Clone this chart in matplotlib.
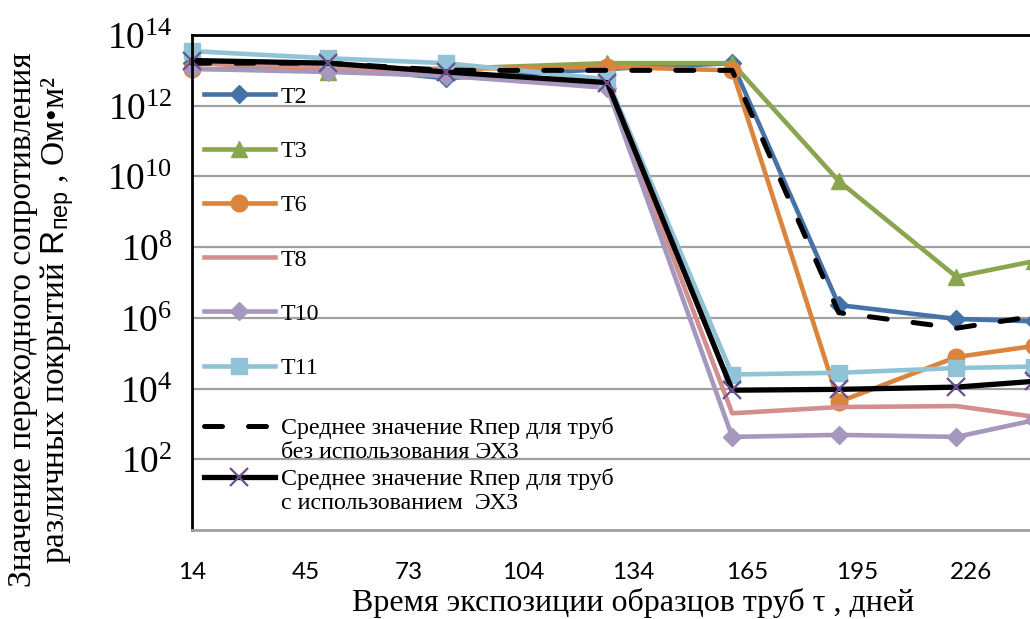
import matplotlib
matplotlib.use('Agg')
import matplotlib.pyplot as plt
import numpy as np
from matplotlib.ticker import FixedLocator, FixedFormatter
from matplotlib.legend_handler import HandlerLine2D

plt.rcParams['mathtext.fontset'] = 'custom'
plt.rcParams['mathtext.rm'] = 'Liberation Serif'
plt.rcParams['mathtext.sf'] = 'Liberation Sans'
plt.rcParams['mathtext.it'] = 'Liberation Serif:italic'

## data (days, Ом*м2)
days = [14, 51, 83, 127, 161, 190, 222, 243]
t2 = [1.6e13, 1.25e13, 6e12, 1.1e13, 1.6e13, 2.3e6, 9.3e5, 8e5]
t3 = [1.8e13, 9e12, 1.1e13, 1.6e13, 1.6e13, 7.4e9, 1.45e7, 4e7]
t6 = [1.1e13, 1.1e13, 1.1e13, 1.25e13, 1e13, 4.2e3, 7.8e4, 1.6e5]
t8 = [1.6e13, 1.25e13, 8e12, 4e12, 2e3, 3e3, 3.2e3, 1.6e3]
t10 = [1.1e13, 9e12, 7e12, 3.2e12, 430, 490, 430, 1.26e3]
t11 = [3.5e13, 2.2e13, 1.6e13, 5.6e12, 2.5e4, 2.8e4, 3.8e4, 4.2e4]
mean_no = [1.6e13, 1.6e13, 1e13, 1e13, 1e13, 1.4e6, 5.1e5, 1.1e6]
mean_with = [1.9e13, 1.6e13, 9e12, 4.5e12, 9e3, 9.5e3, 1.1e4, 1.6e4]

xticks = [14, 45, 73, 104, 134, 165, 195, 226]
yticks = [1e2, 1e4, 1e6, 1e8, 1e10, 1e12, 1e14]
ytick_labels = [r'$10^{2}$', r'$10^{4}$', r'$10^{6}$', r'$10^{8}$',
                r'$10^{10}$', r'$10^{12}$', r'$10^{14}$']


class FirstLineHandler(HandlerLine2D):
    # lift the handle so it sits next to the first line of a 2-line label
    def create_artists(self, legend, orig_handle, xdescent, ydescent,
                       width, height, fontsize, trans):
        arts = super().create_artists(legend, orig_handle, xdescent, ydescent,
                                      width, height, fontsize, trans)
        for a in arts:
            a.set_ydata(np.asarray(a.get_ydata()) + 0.58 * fontsize)
        return arts


W, H = 1030, 619
fig = plt.figure(figsize=(W / 100, H / 100), dpi=100)
# plot area runs past the right edge, like the cropped original
ax = fig.add_axes([192 / W, (H - 530) / H, (1100 - 192) / W, (530 - 35) / H])

lw = 3.3
series = [
    (t2, 'T2', dict(color='#4572A7', marker='D', ms=9)),
    (t3, 'T3', dict(color='#89A54E', marker='^', ms=12)),
    (t6, 'T6', dict(color='#DB843D', marker='o', ms=12)),
    (t8, 'T8', dict(color='#D38E8E', marker=None)),
    (t10, 'T10', dict(color='#A597BE', marker='D', ms=9)),
    (t11, 'T11', dict(color='#8FC3D5', marker='s', ms=12)),
]
t_lines = []
for vals, name, st in series:
    ln, = ax.plot(days, vals, lw=lw, label=name, clip_on=False,
                  solid_joinstyle='round', **st)
    t_lines.append(ln)

l_no, = ax.plot(days, mean_no, color='black', lw=3.6, ls=(0, (3.6, 5.2)),
                dash_capstyle='round', clip_on=False,
                label='Среднее значение Rпер для труб\nбез использования ЭХЗ')
l_with, = ax.plot(days, mean_with, color='black', lw=3.8, marker='x', ms=13,
                  mec='#6A4F8F', mew=1.6, clip_on=False,
                  label='Среднее значение Rпер для труб\nс использованием  ЭХЗ')

ax.set_yscale('log')
ax.set_ylim(1, 1e14)
ax.set_xlim(14, 14 + (1100 - 192) / 3.675)
ax.yaxis.set_major_locator(FixedLocator(yticks))
ax.yaxis.set_major_formatter(FixedFormatter(ytick_labels))
ax.yaxis.set_minor_locator(FixedLocator([]))
ax.set_xticks(xticks)
ax.set_xticklabels([str(d) for d in xticks], family='Lato', fontsize=17.5)
ax.tick_params(axis='x', length=0, pad=23)
ax.tick_params(axis='y', length=0, pad=14, labelsize=27)

ax.grid(axis='y', color='#A0A0A0', lw=1.6)
ax.set_axisbelow(True)
ax.spines['left'].set_color('black')
ax.spines['left'].set_linewidth(2)
ax.spines['top'].set_color('black')
ax.spines['top'].set_linewidth(2)
ax.spines['bottom'].set_color('#A0A0A0')
ax.spines['bottom'].set_linewidth(2)
ax.spines['right'].set_visible(False)

leg_kw = dict(loc='upper left', bbox_transform=fig.transFigure, frameon=False,
              prop={'family': 'Liberation Serif', 'size': 17.3},
              handlelength=2.95, handletextpad=0.25,
              borderpad=0, borderaxespad=0)
leg1 = ax.legend(handles=t_lines, bbox_to_anchor=(204 / W, (H - 86) / H),
                 labelspacing=1.35, **leg_kw)
ax.add_artist(leg1)
hmap = {l_no: FirstLineHandler(), l_with: FirstLineHandler()}
leg2 = ax.legend(handles=[l_no, l_with], bbox_to_anchor=(204 / W, (H - 417) / H),
                 labelspacing=0.22, handler_map=hmap, **leg_kw)
for t in leg2.get_texts():
    t.set_linespacing(1.17)

fig.text(633 / W, 1 - 603 / H, 'Время экспозиции образцов труб τ , дней',
         family='Liberation Serif', fontsize=23, ha='center', va='center')
fig.text(42 / W, 1 - 320 / H,
         'Значение переходного сопротивления\n'
         'различных покрытий $\\mathsf{R}_{\\mathsf{пер}}$ , Ом•м²',
         family='Liberation Serif', fontsize=24, rotation=90,
         ha='center', va='center', multialignment='center', linespacing=1.0)

fig.savefig('out.png', dpi=100)
